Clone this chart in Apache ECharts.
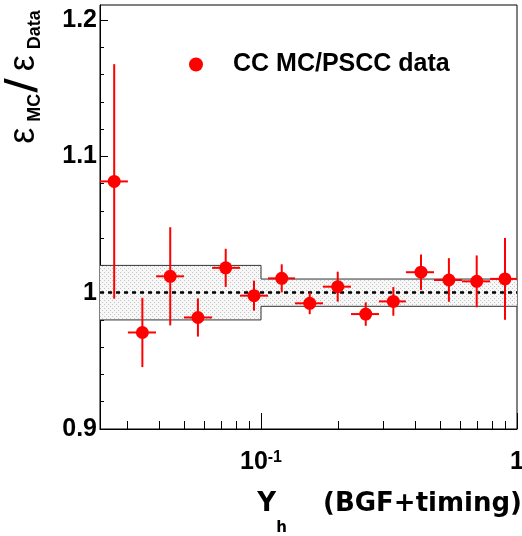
<!DOCTYPE html>
<html>
<head>
<meta charset="utf-8">
<script src="https://cdn.jsdelivr.net/npm/echarts@6/dist/echarts.min.js"></script>
<style>html,body{margin:0;padding:0;background:#fff;}#c{width:522px;height:536px;}</style>
</head>
<body>
<div id="c"></div>
<script>
// ---- data ----
const seriesName = 'CC MC/PSCC data';
const xCenter = [0.0267, 0.0344, 0.0442, 0.0567, 0.0728, 0.0939, 0.1205, 0.155, 0.1994, 0.2565, 0.3288, 0.4217, 0.542, 0.696, 0.8975];
const xLow    = [0.0235, 0.0302, 0.0389, 0.0500, 0.0644, 0.0828, 0.1065, 0.1358, 0.1746, 0.2246, 0.289, 0.368, 0.474, 0.610, 0.785];
const xHigh   = [0.0302, 0.0389, 0.0500, 0.0644, 0.0828, 0.1065, 0.1358, 0.1746, 0.2246, 0.289, 0.368, 0.474, 0.610, 0.785, 1.0];
const ratio   = [1.0816, 0.9708, 1.012, 0.9818, 1.0182, 0.9978, 1.0105, 0.9922, 1.0044, 0.9843, 0.9936, 1.015, 1.0093, 1.0083, 1.0101];
const ratioErr= [0.086, 0.0254, 0.036, 0.014, 0.014, 0.011, 0.0103, 0.008, 0.011, 0.0086, 0.0105, 0.013, 0.016, 0.019, 0.030];
// systematic band
const bandX0   = [0.0235, 0.1];
const bandX1   = [0.1, 1.0];
const bandHigh = [1.02, 1.01];
const bandLow  = [0.98, 0.99];
// axes
const xMin = 0.0235, xMax = 1.0;
const yMin = 0.9, yMax = 1.211;
const xMajorTicks = [0.1, 1];
const xMinorTicks = [0.03, 0.04, 0.05, 0.06, 0.07, 0.08, 0.09, 0.2, 0.3, 0.4, 0.5, 0.6, 0.7, 0.8, 0.9];
const yMajorTicks = [0.9, 1.0, 1.1, 1.2];
const yMinorTicks = [0.92, 0.94, 0.96, 0.98, 1.02, 1.04, 1.06, 1.08, 1.12, 1.14, 1.16, 1.18];
const refValue = 1.0;

// ---- build ----
const pointData = xCenter.map((x, i) => [x, ratio[i], xLow[i], xHigh[i], ratioErr[i]]);
const bandData = bandX0.map((x, i) => [x, bandX1[i], bandLow[i], bandHigh[i]]);
const topLine = [[bandX0[0], bandHigh[0]], [bandX0[1], bandHigh[1]], [bandX1[1], bandHigh[1]]];
const botLine = [[bandX0[0], bandLow[0]], [bandX0[1], bandLow[1]], [bandX1[1], bandLow[1]]];

const pc = document.createElement('canvas');
pc.width = 4; pc.height = 4;
const pctx = pc.getContext('2d');
pctx.fillStyle = '#f7f7f7'; pctx.fillRect(0, 0, 4, 4);
pctx.fillStyle = '#c4c4c4'; pctx.fillRect(0, 0, 1, 1); pctx.fillRect(2, 2, 1, 1);

const RED = '#ff0000';
const chart = echarts.init(document.getElementById('c'), null, {renderer: 'canvas'});
const numFont = {fontFamily: 'Liberation Sans', fontWeight: 'bold', color: '#000'};

const option = {
  animation: false,
  backgroundColor: '#fff',
  grid: {left: 100, right: 5, top: 5, bottom: 107, show: true, borderColor: '#000', borderWidth: 1,
         backgroundColor: 'transparent', containLabel: false, outerBoundsMode: 'none'},
  legend: {
    data: [seriesName], left: 189, top: 52, padding: 0, icon: 'circle', itemWidth: 14, itemHeight: 14,
    itemStyle: {color: RED},
    formatter: n => '{p|}{t|' + n + '}',
    textStyle: {rich: {p: {width: 25}, t: {fontSize: 25, fontWeight: 'bold', fontFamily: 'Liberation Sans', color: '#000'}}}
  },
  xAxis: [
    {type: 'log', logBase: 10, min: xMin, max: xMax, position: 'bottom',
     axisLine: {show: true, lineStyle: {color: '#000', width: 1}},
     axisTick: {show: true, inside: true, length: 8, customValues: xMinorTicks, lineStyle: {color: '#000', width: 1}},
     axisLabel: {show: false}, splitLine: {show: false}},
    {type: 'log', logBase: 10, min: xMin, max: xMax, position: 'bottom', offset: 0,
     axisLine: {show: false},
     axisTick: {show: true, inside: true, length: 16, customValues: xMajorTicks, lineStyle: {color: '#000', width: 1}},
     axisLabel: {show: true, customValues: xMajorTicks, margin: 21, showMinLabel: true, showMaxLabel: true, hideOverlap: false,
       formatter: v => Math.abs(v - 1) < 1e-6 ? '{a|1}' : '{a|10}{b|-1}',
       rich: {a: Object.assign({fontSize: 25, lineHeight: 30, verticalAlign: 'top'}, numFont),
              b: Object.assign({fontSize: 16, lineHeight: 10, verticalAlign: 'top'}, numFont)}},
     splitLine: {show: false}}
  ],
  yAxis: [
    {type: 'value', min: yMin, max: yMax, position: 'left',
     axisLine: {show: true, lineStyle: {color: '#000', width: 1}},
     axisTick: {show: true, inside: true, length: 8, customValues: yMajorTicks, lineStyle: {color: '#000', width: 1}},
     axisLabel: Object.assign({show: true, customValues: yMajorTicks, margin: 3, fontSize: 25,
       formatter: v => String(Math.round(v * 10) / 10)}, numFont),
     splitLine: {show: false}},
    {type: 'value', min: yMin, max: yMax, position: 'left', offset: 0,
     axisLine: {show: false},
     axisTick: {show: true, inside: true, length: 4, customValues: yMinorTicks, lineStyle: {color: '#000', width: 1}},
     axisLabel: {show: false}, splitLine: {show: false}}
  ],
  series: [
    {type: 'custom', name: 'band', xAxisIndex: 0, yAxisIndex: 0, data: bandData, silent: true, z: 1,
     encode: {x: [0, 1], y: [2, 3]},
     renderItem: (params, api) => {
       const p0 = api.coord([api.value(0), api.value(3)]);
       const p1 = api.coord([api.value(1), api.value(2)]);
       return {type: 'rect', shape: {x: p0[0], y: p0[1], width: p1[0] - p0[0], height: p1[1] - p0[1]},
               style: {fill: {image: pc, repeat: 'repeat'}, stroke: null}};
     },
     markLine: {silent: true, symbol: ['none', 'none'], label: {show: false},
       lineStyle: {color: '#000', type: [4, 4], width: 2.5}, data: [{yAxis: refValue}]}},
    {type: 'line', name: 'bandTop', data: topLine, step: 'end', symbol: 'none', silent: true, z: 2,
     lineStyle: {color: '#333', width: 1}},
    {type: 'line', name: 'bandBot', data: botLine, step: 'end', symbol: 'none', silent: true, z: 2,
     lineStyle: {color: '#333', width: 1}},
    {type: 'custom', name: seriesName, xAxisIndex: 0, yAxisIndex: 0, data: pointData, z: 5,
     itemStyle: {color: RED},
     encode: {x: [0, 2, 3], y: 1},
     renderItem: (params, api) => {
       const x = api.value(0), y = api.value(1), e = api.value(4);
       const c = api.coord([x, y]);
       const l = api.coord([api.value(2), y]);
       const h = api.coord([api.value(3), y]);
       const t = api.coord([x, y + e]);
       const b = api.coord([x, y - e]);
       return {type: 'group', children: [
         {type: 'line', shape: {x1: l[0], y1: c[1], x2: h[0], y2: c[1]}, style: {stroke: RED, lineWidth: 2}},
         {type: 'line', shape: {x1: c[0], y1: t[1], x2: c[0], y2: b[1]}, style: {stroke: RED, lineWidth: 2}},
         {type: 'circle', shape: {cx: c[0], cy: c[1], r: 6.5}, style: {fill: RED}}
       ]};
     }}
  ],
  graphic: [
    {type: 'text', x: 24, y: 80, rotation: Math.PI / 2, silent: true,
     style: {text: '{e|ε}{s|MC}{sl|/}{e|ε}{s|Data}', align: 'center', verticalAlign: 'middle',
       rich: {
         e: {fontSize: 36, fontFamily: 'Liberation Sans', lineHeight: 40, verticalAlign: 'middle', padding: [0, 6, 0, 6], fill: '#000'},
         s: {fontSize: 18, fontFamily: 'Liberation Sans', fontWeight: 'bold', lineHeight: 14, verticalAlign: 'bottom', fill: '#000'},
         sl: {fontSize: 40, fontFamily: 'DejaVu Sans', fontWeight: 'bold', lineHeight: 30, verticalAlign: 'top', padding: [0, 1, 0, 1], fill: '#000'}
       }}},
    {type: 'text', x: 522, y: 491, silent: true,
     style: {text: '{y|Y}{h|h}{r|    (BGF+timing)}', align: 'right', verticalAlign: 'top',
       rich: {
         y: {fontSize: 26, fontFamily: 'DejaVu Sans', fontWeight: 'bold', lineHeight: 30, verticalAlign: 'top', fill: '#000'},
         h: {fontSize: 15, fontFamily: 'DejaVu Sans', fontWeight: 'bold', lineHeight: 14, padding: [30, 0, 0, 0], verticalAlign: 'top', fill: '#000'},
         r: {fontSize: 26, fontFamily: 'DejaVu Sans', fontWeight: 'bold', lineHeight: 30, verticalAlign: 'top', fill: '#000'}
       }}}
  ]
};
chart.setOption(option);
</script>
</body>
</html>
